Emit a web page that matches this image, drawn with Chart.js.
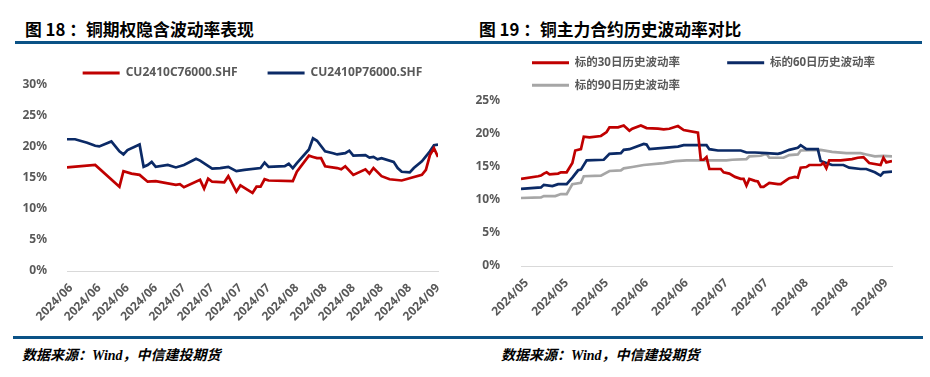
<!DOCTYPE html>
<html>
<head>
<meta charset="utf-8">
<script src="https://cdn.jsdelivr.net/npm/chart.js@4.4.1/dist/chart.umd.min.js"></script>
<style>
  body { margin: 0; background: #fff; width: 930px; height: 377px; position: relative; overflow: hidden; }
  .title { position: absolute; top: 17px; font: bold 16.8px 'Noto Sans CJK SC', sans-serif; color: #000; white-space: nowrap; }
  .rule { position: absolute; background: #0B5286; height: 3px; }
  .src { position: absolute; top: 344px; font: italic bold 14px 'Noto Sans CJK SC', sans-serif; color: #000; white-space: nowrap; }
  .src i { font-family: 'Liberation Serif', serif; }
  canvas { position: absolute; top: 0; }
</style>
</head>
<body>
<div class="title" style="left:25px">图 18 ：铜期权隐含波动率表现</div>
<div class="title" style="left:479px">图 19 ：铜主力合约历史波动率对比</div>
<div class="rule" style="left:15px; width:907px; top:41px"></div>
<div class="rule" style="left:13px; width:910px; top:336px"></div>
<div class="src" style="left:22px">数据来源：<i>Wind</i>，中信建投期货</div>
<div class="src" style="left:501px">数据来源：<i>Wind</i>，中信建投期货</div>

<canvas id="left" width="465" height="330" style="left:0"></canvas>
<canvas id="right" width="465" height="330" style="left:465px"></canvas>

<script>
// 图18: implied vol (x = calendar days from start, y = %)
var leftTickDays = [1, 8, 15, 22, 29, 36, 43, 50, 57, 64, 71, 78, 85, 92];
var leftTickLabels = ['2024/06', '2024/06', '2024/06', '2024/06', '2024/07', '2024/07', '2024/07',
  '2024/07', '2024/08', '2024/08', '2024/08', '2024/08', '2024/08', '2024/09'];

var callDays = [0, 7, 13, 14, 16, 18, 20, 22, 27, 28, 29, 33, 34, 35, 36, 39, 40, 42, 43, 46, 47, 48, 49, 50,
  56, 57, 60, 61, 62, 63, 64, 67, 68, 69, 71, 74, 75, 76, 78, 80, 83, 88, 89, 90, 91, 92];
var callVol = [16.7, 17.1, 13.6, 16.1, 15.7, 15.5, 14.4, 14.5, 13.9, 14.0, 13.5, 14.7, 13.3, 14.9, 14.4, 14.3,
  15.3, 12.8, 13.8, 12.6, 13.6, 13.6, 14.8, 14.6, 14.5, 16.0, 18.6, 18.4, 18.2, 18.2, 16.9, 16.6, 16.4, 16.9,
  15.5, 16.4, 15.7, 16.6, 15.3, 14.8, 14.6, 15.5, 16.3, 18.7, 19.8, 18.4];

var putDays = [0, 2, 5, 7, 8, 11, 13, 14, 15, 18, 19, 20, 21, 22, 25, 27, 29, 32, 33, 36, 38, 40, 42, 44, 48,
  49, 50, 54, 55, 56, 57, 60, 61, 62, 64, 66, 67, 69, 70, 71, 74, 75, 76, 77, 78, 81, 82, 83, 85, 86, 88, 90, 91, 92];
var putVol = [21.25, 21.25, 20.7, 20.2, 20.1, 20.9, 19.3, 18.8, 19.5, 20.4, 16.8, 17.1, 17.6, 16.8, 17.1, 16.7,
  17.1, 18.1, 17.8, 16.5, 16.6, 16.8, 16.1, 16.3, 16.6, 17.5, 16.8, 16.9, 17.3, 16.6, 17.4, 19.6, 21.4, 21.0,
  19.3, 19.0, 18.8, 19.0, 19.4, 18.6, 18.7, 18.3, 18.4, 18.0, 18.2, 17.6, 16.6, 16.0, 15.9, 16.6, 17.7, 19.3, 20.3, 20.4];

// 图19: historical vol
var rightTickDays = [2, 16, 30, 44, 58, 72, 86, 100, 114, 128];
var rightTickLabels = ['2024/05', '2024/05', '2024/05', '2024/06', '2024/06', '2024/07', '2024/07',
  '2024/08', '2024/08', '2024/09'];

var hv30Days = [0, 6, 7, 8, 9, 10, 13, 14, 16, 18, 19, 21, 22, 24, 28, 30, 31, 34, 36, 38, 39, 42, 44, 48, 50,
  52, 55, 57, 62, 63, 64, 65, 66, 70, 71, 73, 75, 77, 78, 79, 80, 82, 83, 84, 85, 87, 90, 91, 93, 94, 96, 97,
  98, 100, 101, 105, 106, 107, 108, 112, 116, 118, 120, 122, 126, 127, 128, 130];
var hv30 = [13.2, 13.6, 13.7, 14.0, 14.2, 13.9, 14.0, 14.2, 14.2, 15.6, 17.5, 17.7, 19.6, 19.5, 19.7, 20.3,
  21.0, 21.0, 21.3, 20.5, 20.8, 21.3, 20.9, 20.8, 20.7, 20.8, 21.2, 20.6, 20.2, 16.1, 16.1, 16.5, 14.7, 14.7,
  14.2, 14.0, 13.5, 13.2, 13.2, 12.2, 13.2, 12.9, 12.8, 12.0, 12.0, 12.6, 12.4, 12.4, 13.0, 13.3, 13.5, 13.4,
  14.9, 15.0, 15.3, 15.3, 15.6, 14.8, 16.0, 16.0, 16.2, 16.4, 16.5, 15.6, 15.3, 16.4, 15.7, 15.9];

var hv60Days = [0, 7, 8, 11, 13, 16, 18, 20, 21, 23, 29, 31, 35, 36, 38, 43, 44, 45, 50, 55, 57, 65, 66, 69,
  77, 79, 82, 86, 90, 91, 94, 97, 98, 100, 104, 105, 107, 109, 113, 115, 119, 121, 124, 126, 127, 130];
var hv60 = [11.7, 11.9, 12.3, 12.1, 12.4, 12.4, 13.4, 14.5, 14.6, 16.0, 16.1, 17.0, 17.1, 17.6, 17.7, 18.5,
  18.4, 17.7, 17.9, 18.1, 18.3, 18.3, 17.7, 17.5, 17.5, 17.2, 17.2, 17.1, 17.0, 17.1, 17.6, 17.9, 18.3, 17.7,
  17.7, 15.9, 15.6, 15.3, 15.3, 14.9, 14.7, 14.7, 14.2, 13.7, 14.2, 14.3];

var hv90Days = [0, 7, 8, 12, 14, 16, 18, 21, 22, 28, 31, 35, 36, 39, 43, 50, 54, 58, 72, 74, 79, 80, 84, 86,
  87, 92, 94, 97, 98, 105, 109, 114, 119, 121, 124, 127, 130];
var hv90 = [10.3, 10.4, 10.6, 10.6, 10.9, 10.9, 12.4, 12.6, 13.6, 13.7, 14.4, 14.5, 14.8, 15.0, 15.3, 15.6,
  15.9, 16.0, 16.0, 16.1, 16.2, 16.6, 16.7, 17.0, 16.4, 16.4, 16.8, 16.9, 17.5, 17.6, 17.3, 17.1, 17.1, 16.9,
  16.6, 16.7, 16.6];

var RED = '#C00000', NAVY = '#0B2A66', GREY = '#A6A6A6';
var GREYTEXT = '#595959';
var FAMILY = "'Noto Sans', 'Noto Sans CJK SC', sans-serif";
var tickFont = { family: FAMILY, size: 12, weight: 'bold' };

// legend gaps in the original are wider than the row spacing, so stretch a label with thin spaces
var measureCtx = document.createElement('canvas').getContext('2d');
function stretch(text, width, size) {
  if (!width) return text;
  measureCtx.font = 'bold ' + size + 'px ' + FAMILY;
  var s = text;
  while (measureCtx.measureText(s).width < width - 1) s += '\u2009';
  return s;
}

function pts(xs, ys) {
  return xs.map(function (x, i) { return { x: x, y: ys[i] }; });
}

function series(label, color, xs, ys) {
  return {
    label: label, data: pts(xs, ys), borderColor: color, backgroundColor: color,
    borderWidth: 2.7, pointRadius: 0, tension: 0, fill: false
  };
}

function makeChart(id, cfg) {
  var legendFont = { family: FAMILY, size: cfg.legendSize, weight: 'bold' };
  return new Chart(document.getElementById(id), {
    type: 'line',
    data: { datasets: cfg.datasets },
    options: {
      responsive: false,
      animation: false,
      layout: { padding: cfg.padding },
      plugins: {
        tooltip: { enabled: false },
        legend: {
          fullSize: false,
          align: cfg.legendAlign,
          maxHeight: cfg.legendMaxHeight,
          labels: {
            boxWidth: 37, boxHeight: 3, padding: cfg.legendSpacing,
            color: GREYTEXT, font: legendFont,
            generateLabels: function (chart) {
              return chart.data.datasets.map(function (ds, i) {
                return {
                  text: stretch(ds.label, cfg.labelWidths[i], cfg.legendSize),
                  fillStyle: ds.borderColor, strokeStyle: ds.borderColor,
                  lineWidth: 0, hidden: false, datasetIndex: i, fontColor: GREYTEXT
                };
              });
            }
          }
        }
      },
      scales: {
        x: {
          type: 'linear', min: cfg.xMin, max: cfg.xMax,
          grid: { display: false },
          border: { color: '#D9D9D9', width: 1 },
          afterBuildTicks: function (scale) {
            scale.ticks = cfg.tickDays.map(function (d) { return { value: d }; });
          },
          afterFit: function (scale) { scale.height = cfg.xHeight; },
          ticks: {
            autoSkip: false, minRotation: 45, maxRotation: 45, padding: 2,
            color: GREYTEXT, font: tickFont,
            callback: function (v, i) { return cfg.tickLabels[i]; }
          }
        },
        y: {
          min: 0, max: cfg.yMax,
          grid: { display: false },
          border: { display: false },
          afterFit: function (scale) { scale.width = cfg.yWidth; },
          ticks: {
            stepSize: 5, padding: cfg.yPad, color: GREYTEXT, font: tickFont,
            callback: function (v) { return v + '%'; }
          }
        }
      }
    }
  });
}

makeChart('left', {
  datasets: [
    series('CU2410C76000.SHF', RED, callDays, callVol),
    series('CU2410P76000.SHF', NAVY, putDays, putVol)
  ],
  labelWidths: [131, 0], legendSize: 12,
  legendAlign: 'center', legendSpacing: 10, legendMaxHeight: 28,
  padding: { left: 20, right: 27, top: 57, bottom: 0 },
  xMin: 0, xMax: 92, tickDays: leftTickDays, tickLabels: leftTickLabels, xHeight: 59,
  yMax: 30, yWidth: 47, yPad: 12
});

makeChart('right', {
  datasets: [
    series('标的30日历史波动率', RED, hv30Days, hv30),
    series('标的60日历史波动率', NAVY, hv60Days, hv60),
    series('标的90日历史波动率', GREY, hv90Days, hv90)
  ],
  labelWidths: [142, 0, 0], legendSize: 11.5,
  legendAlign: 'start', legendSpacing: 11, legendMaxHeight: undefined,
  padding: { left: 10, right: 38, top: 46, bottom: 0 },
  xMin: 0, xMax: 130, tickDays: rightTickDays, tickLabels: rightTickLabels, xHeight: 64,
  yMax: 25, yWidth: 46, yPad: 13
});
</script>
</body>
</html>
